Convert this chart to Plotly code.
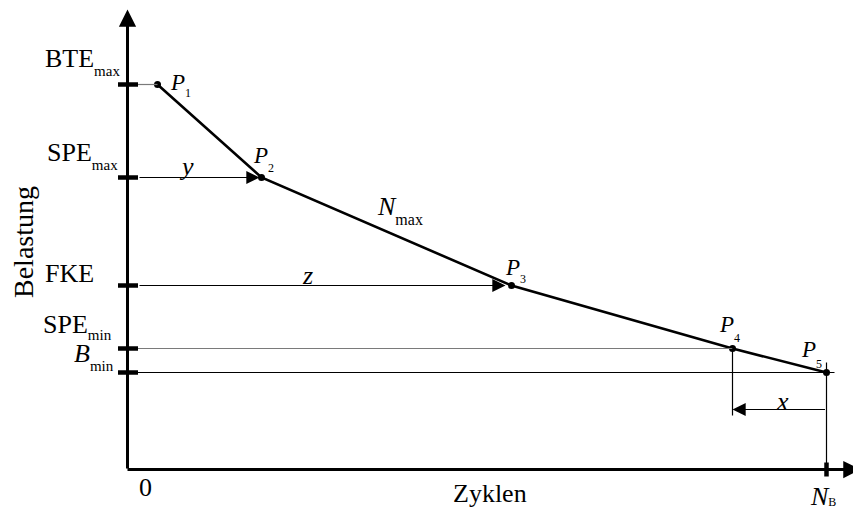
import plotly.graph_objects as go

# Stützpunkte der Belastungs-Zyklen-Kurve (schematische Einheiten)
punkt_index = ["1", "2", "3", "4", "5"]
zyklen = [30, 134, 384, 605, 699]
belastung = [385, 292, 184, 121, 97]

# Lastniveaus an der Ordinate
niveau_haupt = ["BTE", "SPE", "FKE", "SPE", "B"]
niveau_index = ["max", "max", "", "min", "min"]
niveau_werte = [385, 292, 184, 121, 97]

# Bruchzyklenzahl und Höhe des Abstandspfeils x
N_B = 699
x_pfeil_last = 60

FONT = "Liberation Serif"
BLACK = "#000000"
GREY = "#7a7a7a"

fig = go.Figure()

# Kurve P1 ... P5
fig.add_trace(go.Scatter(
    x=zyklen, y=belastung, mode="lines+markers",
    line=dict(color=BLACK, width=2.6),
    marker=dict(color=BLACK, size=7),
    hoverinfo="skip", showlegend=False,
))

shapes = []
annotations = []


def hline(y, x0, x1, color=BLACK, width=1.2):
    shapes.append(dict(type="line", xref="x", yref="y", x0=x0, x1=x1, y0=y, y1=y,
                       line=dict(color=color, width=width)))


def vline(x, y0, y1, color=BLACK, width=1.2):
    shapes.append(dict(type="line", xref="x", yref="y", x0=x, x1=x, y0=y0, y1=y1,
                       line=dict(color=color, width=width)))


def arrow(x_tip, y_tip, x_tail, y_tail, width=1.2, size=2.2):
    annotations.append(dict(
        x=x_tip, y=y_tip, ax=x_tail, ay=y_tail, xref="x", yref="y", axref="x", ayref="y",
        text="", showarrow=True, arrowhead=2, arrowsize=size, arrowwidth=width,
        arrowcolor=BLACK, standoff=0,
    ))


def text(x, y, html, size=26, xanchor="center", yanchor="middle",
         xshift=0, yshift=0, angle=0):
    annotations.append(dict(
        x=x, y=y, xref="x", yref="y", text=html, showarrow=False,
        font=dict(family=FONT, size=size, color=BLACK),
        xanchor=xanchor, yanchor=yanchor, xshift=xshift, yshift=yshift,
        textangle=angle, borderpad=0, borderwidth=0,
    ))


def indexed(x, y, main, index, xshift, yshift, drop,
            main_size=26, sub_size=15, italic=False):
    """Text mit tiefgestelltem Index; Anker = linke obere Ecke des Textfelds."""
    m = f"<i>{main}</i>" if italic else main
    if index:
        m += (f'<span style="font-size:{sub_size}px;baseline-shift:-{drop}px">'
              f'{index}</span>')
    text(x, y, m, size=main_size, xanchor="left", yanchor="top",
         xshift=xshift, yshift=yshift)


# Achsen mit Pfeilspitzen
arrow(0, 460, 0, -0.5, width=3, size=1.15)
arrow(733, 0, -1.5, 0, width=3, size=1.15)

# Teilstriche an der Ordinate
for lv in niveau_werte:
    hline(lv, -9.5, 10.5, width=4.5)
# Teilstrich bei N_B
vline(N_B, -7, 7, width=4.5)

# Hilfslinien
hline(niveau_werte[0], 10.5, zyklen[0], color=GREY)
hline(niveau_werte[3], 10.5, zyklen[3], color=GREY)
hline(niveau_werte[4], 10.5, N_B + 8)
vline(zyklen[3], belastung[3], x_pfeil_last - 6)
vline(N_B, belastung[4] + 10, 0)

# Abstandspfeile y, z, x
arrow(zyklen[1] - 2, niveau_werte[1], 10.5, niveau_werte[1])
arrow(zyklen[2] - 6, niveau_werte[2], 10.5, niveau_werte[2])
arrow(zyklen[3], x_pfeil_last, N_B, x_pfeil_last)

# Beschriftung der Lastniveaus: (x-Versatz, y-Versatz, Indexabsenkung)
lab_pos = [(-82.5, 40.2, 9), (-80.5, 39.2, 9), (-82.5, 26.2, 0),
           (-84.5, 38.2, 7), (-53.5, 33.2, 9)]
for i, (h, idx) in enumerate(zip(niveau_haupt, niveau_index)):
    xs, ys, dr = lab_pos[i]
    indexed(0, niveau_werte[i], h, idx, xs, ys, dr, italic=(h == "B"))

# Punktbezeichnungen P1 ... P5
p_pos = [(12.3, 14.8, 7), (-8.7, 34.2, 9), (-6.7, 30.5, 8), (-14, 36.5, 10), (-26, 35.5, 11)]
for i, n in enumerate(punkt_index):
    xs, ys, dr = p_pos[i]
    indexed(zyklen[i], belastung[i], "P", n, xs, ys, dr,
            main_size=23, sub_size=12, italic=True)

# Bezeichnung der Abstände und des Kurvenabschnitts
text(58.5, niveau_werte[1], "<i>y</i>", size=26, yshift=11)
text(179.5, niveau_werte[2], "<i>z</i>", size=26, yshift=10)
text(654.5, x_pfeil_last, "<i>x</i>", size=26, yshift=8)
indexed(249.5, 277.7, "N", "max", 0, 0, 10, main_size=26, sub_size=16, italic=True)

# Achsenbeschriftungen
text(17.5, -17.5, "0", size=26)
indexed(N_B, 0, "N", "B", -16.5, -12, 1, main_size=26, sub_size=12, italic=True)
text(362, -23.5, "Zyklen", size=26)
text(-104, 227, "Belastung", size=28, angle=-90)

fig.update_layout(
    width=853, height=510, autosize=False,
    margin=dict(l=0, r=0, t=0, b=0, pad=0),
    paper_bgcolor="white", plot_bgcolor="white",
    xaxis=dict(range=[-127.5, 725.5], visible=False, fixedrange=True),
    yaxis=dict(range=[-40.5, 469.5], visible=False, fixedrange=True),
    shapes=shapes, annotations=annotations,
    showlegend=False,
)

fig.write_html("out.html")
